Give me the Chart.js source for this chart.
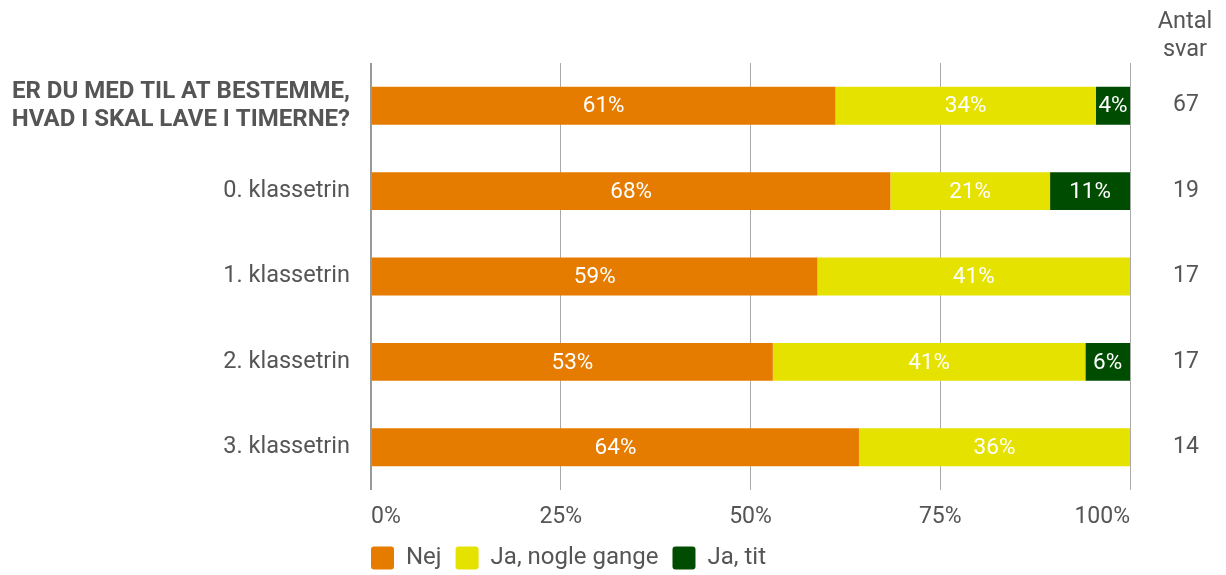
<!DOCTYPE html>
<html>
<head>
<meta charset="utf-8">
<script src="https://cdn.jsdelivr.net/npm/chart.js@4/dist/chart.umd.min.js"></script>
<style>
html,body{margin:0;padding:0;background:#fff;}
#wrap{width:1226px;height:575px;position:relative;}
</style>
</head>
<body>
<div id="wrap"><canvas id="c"></canvas></div>
<script>
const categories = [
  ['ER DU MED TIL AT BESTEMME,', 'HVAD I SKAL LAVE I TIMERNE?'],
  '0. klassetrin',
  '1. klassetrin',
  '2. klassetrin',
  '3. klassetrin'
];
const seriesNames = ['Nej', 'Ja, nogle gange', 'Ja, tit'];
const nej = [61.19, 68.42, 58.82, 52.94, 64.29];
const jaNogle = [34.33, 21.05, 41.18, 41.18, 35.71];
const jaTit = [4.48, 10.53, 0, 5.88, 0];
const antalSvar = ['67', '19', '17', '17', '14'];
const antalHeader = ['Antal', 'svar'];
const xTicks = [0, 25, 50, 75, 100];
const colors = ['#E57C00', '#E6E200', '#004C00'];

const FONT = 'Roboto, "Noto Sans", sans-serif';
const TXT = '#555555';
const LEGEND_PAD = 14;

const labelPlugin = {
  id: 'segLabels',
  afterDatasetsDraw(chart) {
    const ctx = chart.ctx;
    ctx.save();
    ctx.font = '22.5px ' + FONT;
    ctx.fillStyle = '#ffffff';
    ctx.textAlign = 'center';
    ctx.textBaseline = 'middle';
    chart.data.datasets.forEach((ds, di) => {
      const meta = chart.getDatasetMeta(di);
      meta.data.forEach((bar, i) => {
        const v = ds.data[i];
        if (!v) return;
        const x = (bar.x + bar.base) / 2;
        ctx.fillText(Math.round(v) + '%', x, bar.y + 1);
      });
    });
    ctx.restore();
  }
};

const headerPlugin = {
  id: 'antalHeader',
  afterLayout(chart) {
    const lg = chart.legend;
    if (lg) {
      lg.left -= LEGEND_PAD;
      lg.right -= LEGEND_PAD;
      lg.top += 5;
      lg.bottom += 5;
    }
  },
  afterDraw(chart) {
    const ctx = chart.ctx;
    ctx.save();
    ctx.font = '23.5px ' + FONT;
    ctx.fillStyle = TXT;
    ctx.textAlign = 'center';
    ctx.textBaseline = 'middle';
    const cx = 1185;
    ctx.fillText(antalHeader[0], cx, 22);
    ctx.fillText(antalHeader[1], cx, 50);
    ctx.restore();
  }
};

new Chart(document.getElementById('c'), {
  type: 'bar',
  data: {
    labels: categories,
    datasets: [
      { label: seriesNames[0], data: nej, backgroundColor: colors[0] },
      { label: seriesNames[1], data: jaNogle, backgroundColor: colors[1] },
      { label: seriesNames[2], data: jaTit, backgroundColor: colors[2] }
    ]
  },
  options: {
    indexAxis: 'y',
    responsive: true,
    maintainAspectRatio: false,
    animation: false,
    barPercentage: 1,
    categoryPercentage: 0.444,
    layout: { padding: { top: 63, left: 0, right: 0, bottom: 0 } },
    plugins: {
      legend: {
        position: 'bottom',
        align: 'start',
        fullSize: false,
        labels: {
          font: { family: FONT, size: 24 },
          color: TXT,
          boxWidth: 23,
          boxHeight: 23,
          useBorderRadius: true,
          borderRadius: 3,
          padding: LEGEND_PAD
        }
      },
      tooltip: { enabled: false }
    },
    scales: {
      x: {
        stacked: true,
        min: 0,
        max: 100,
        afterBuildTicks(scale) { scale.ticks = xTicks.map(v => ({ value: v })); },
        grid: {
          color: (c) => c.index === 0 ? '#999999' : '#AAAAAA',
          lineWidth: (c) => c.index === 0 ? 2 : 1,
          drawTicks: false
        },
        border: { display: false },
        ticks: {
          align: 'inner',
          padding: 13,
          color: TXT,
          font: { family: FONT, size: 23 },
          callback: (v) => v + '%'
        },
        afterFit(scale) { scale.height = 37; }
      },
      y: {
        stacked: true,
        grid: { display: false, drawTicks: false },
        border: { display: false },
        ticks: {
          padding: 21,
          color: TXT,
          font: (c) => c.index === 0
            ? { family: FONT, size: 24, weight: 'bold', lineHeight: 1.17 }
            : { family: FONT, size: 23.5 }
        },
        afterFit(scale) { scale.width = 371; }
      },
      y2: {
        type: 'category',
        position: 'right',
        labels: antalSvar,
        offset: true,
        grid: { display: false, drawTicks: false },
        border: { display: false },
        ticks: {
          color: TXT,
          font: { family: FONT, size: 23 },
          crossAlign: 'center',
          padding: 43
        },
        afterFit(scale) { scale.width = 96; }
      }
    }
  },
  plugins: [labelPlugin, headerPlugin]
});
</script>
</body>
</html>
